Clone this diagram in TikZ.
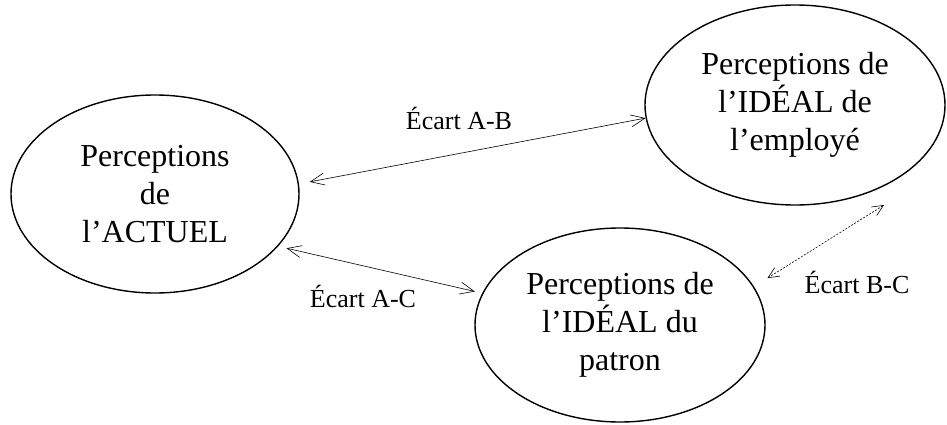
\documentclass[tikz,border=0pt]{standalone}
\usepackage{fontspec}
\setmainfont{Liberation Serif}
\usetikzlibrary{shapes.geometric,arrows.meta}

\begin{document}
\begin{tikzpicture}[x=1pt,y=-1pt,
  bulle/.style={draw,ellipse,line width=1.4pt,inner sep=0pt,align=center,
    font=\fontsize{32}{38}\selectfont},
  ecart/.style={line width=0.6pt,
    {Straight Barb[length=14pt,width=12pt]}-{Straight Barb[length=14pt,width=12pt]}},
  etiquette/.style={font=\fontsize{26}{30}\selectfont}]

\useasboundingbox (0,0) rectangle (947,425);

% Les trois perceptions
\node[bulle,minimum width=288pt,minimum height=198pt] (actuel) at (155,194) {Perceptions\\de\\l’ACTUEL};
\node[bulle,minimum width=300pt,minimum height=200pt] (employe) at (795,105) {Perceptions de\\l’IDÉAL de\\l’employé};
\node[bulle,minimum width=290pt,minimum height=194pt] (patron) at (620,325) {Perceptions de\\l’IDÉAL du\\patron};

% Bout libre de l'écart B-C
\coordinate (finbc) at ([shift={(89,100)}]employe.center);

% Les écarts
\draw[ecart,shorten <=11pt] (actuel.4) -- (employe.185.7);
\draw[ecart,shorten <=8.6pt,shorten >=7.6pt] (actuel.-23.6) -- (patron.167.6);
\draw[ecart,dash pattern=on 2pt off 1.5pt,shorten <=15.9pt,
  {Straight Barb[length=11pt,width=10pt]}-{Straight Barb[length=11pt,width=10pt]}] (patron.16.7) -- (finbc);

% Etiquettes
\node[etiquette] (lab) at (459,118) {Écart A-B};
\node[etiquette] (lac) at (363,296) {Écart A-C};
\node[etiquette] (lbc) at (857,282) {Écart B-C};

\end{tikzpicture}
\end{document}
